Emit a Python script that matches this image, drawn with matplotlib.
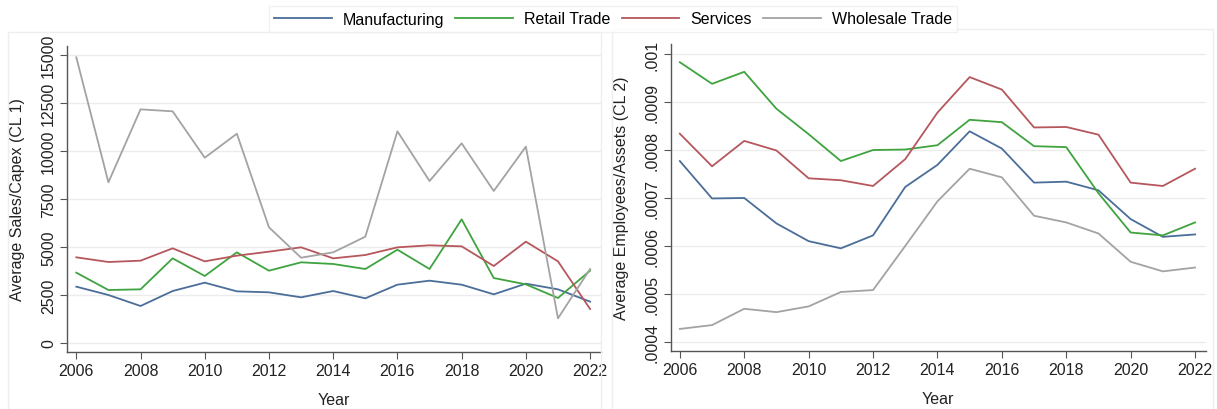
import matplotlib.pyplot as plt
from matplotlib.patches import Rectangle

plt.rcParams["font.family"] = ["Liberation Sans", "DejaVu Sans"]

years = list(range(2006, 2023))

# Average Sales/Capex (CL 1)
sales_manufacturing = [2934, 2500, 1927, 2708, 3142, 2691, 2639, 2379, 2708, 2327,
                       3038, 3246, 3038, 2535, 3090, 2795, 2153]
sales_retail = [3663, 2760, 2795, 4410, 3490, 4722, 3767, 4202, 4115, 3854,
                4861, 3854, 6441, 3385, 3055, 2344, 3767]
sales_services = [4462, 4219, 4288, 4931, 4253, 4549, 4757, 4983, 4410, 4583,
                  4983, 5087, 5035, 4010, 5278, 4253, 1771]
sales_wholesale = [14880, 8370, 12170, 12067, 9651, 10901, 6026, 4443, 4723, 5537,
                   11026, 8437, 10401, 7917, 10226, 1285, 3854]

# Average Employees/Assets (CL 2)
emp_manufacturing = [0.000777, 0.000699, 0.000700, 0.000647, 0.000610, 0.000595,
                     0.000622, 0.000723, 0.000769, 0.000839, 0.000803, 0.000732,
                     0.000734, 0.000716, 0.000656, 0.000619, 0.000624]
emp_retail = [0.000983, 0.000938, 0.000963, 0.000886, 0.000833, 0.000777,
              0.000800, 0.000801, 0.000810, 0.000863, 0.000858, 0.000808,
              0.000806, 0.000710, 0.000628, 0.000622, 0.000649]
emp_services = [0.000834, 0.000766, 0.000819, 0.000799, 0.000741, 0.000737,
                0.000725, 0.000781, 0.000878, 0.000952, 0.000926, 0.000847,
                0.000848, 0.000832, 0.000732, 0.000725, 0.000761]
emp_wholesale = [0.000427, 0.000435, 0.000469, 0.000462, 0.000474, 0.000504,
                 0.000508, 0.000600, 0.000693, 0.000761, 0.000743, 0.000663,
                 0.000649, 0.000626, 0.000567, 0.000547, 0.000555]

SECTORS = ["Manufacturing", "Retail Trade", "Services", "Wholesale Trade"]
COLORS = {
    "Manufacturing": "#4a6e99",
    "Retail Trade": "#3fa33f",
    "Services": "#b5575c",
    "Wholesale Trade": "#a3a3a3",
}

sales = dict(zip(SECTORS, [sales_manufacturing, sales_retail, sales_services, sales_wholesale]))
emps = dict(zip(SECTORS, [emp_manufacturing, emp_retail, emp_services, emp_wholesale]))

sales_ticks = [0, 2500, 5000, 7500, 10000, 12500, 15000]
emp_ticks = [0.0004, 0.0005, 0.0006, 0.0007, 0.0008, 0.0009, 0.001]
emp_tick_labels = [".0004", ".0005", ".0006", ".0007", ".0008", ".0009", ".001"]
year_ticks = list(range(2006, 2023, 2))

FS = 11.5
W, H = 1217, 410

fig = plt.figure(figsize=(W / 100, H / 100), dpi=100)
fig.patch.set_facecolor("white")

# faint panel frames
for x0, x1, top in [(8, 601, 33), (612, 1213, 30)]:
    fig.add_artist(Rectangle((x0 / W, -0.01), (x1 - x0) / W, 1 - top / H + 0.01,
                             transform=fig.transFigure, fill=False,
                             edgecolor="#eeeeee", linewidth=1))

ax1 = fig.add_axes([67 / W, 57 / H, 534 / W, 306 / H])
ax2 = fig.add_axes([670.5 / W, 58 / H, 535.5 / W, 307 / H])


def style_axis(ax):
    for side in ["top", "right"]:
        ax.spines[side].set_visible(False)
    for side in ["left", "bottom"]:
        ax.spines[side].set_color("#555555")
        ax.spines[side].set_linewidth(1.0)
    ax.grid(axis="y", color="#ececec", linewidth=1.0)
    ax.set_axisbelow(True)
    ax.tick_params(axis="both", direction="out", length=5, width=0.8, color="#555555",
                   labelsize=FS, labelcolor="#222222", pad=3)
    ax.set_xticks(year_ticks)
    ax.set_xlabel("Year", fontsize=FS, labelpad=10, color="#222222")


lines = []
for sector in SECTORS:
    (ln,) = ax1.plot(years, sales[sector], color=COLORS[sector], linewidth=1.3, label=sector)
    lines.append(ln)
    ax2.plot(years, emps[sector], color=COLORS[sector], linewidth=1.3)

style_axis(ax1)
ax1.set_xlim(2005.71, 2022.34)
ax1.set_ylim(-469, 15470)
ax1.set_yticks(sales_ticks)
ax1.set_yticklabels([str(t) for t in sales_ticks], rotation=90, va="center")
ax1.set_ylabel("Average Sales/Capex (CL 1)", fontsize=FS, color="#222222")
ax1.yaxis.set_label_coords(-0.079, 0.5)

style_axis(ax2)
ax2.set_xlim(2005.71, 2022.34)
ax2.set_ylim(0.000381, 0.001021)
ax2.set_yticks(emp_ticks)
ax2.set_yticklabels(emp_tick_labels, rotation=90, va="center")
ax2.set_ylabel("Average Employees/Assets (CL 2)", fontsize=FS, color="#222222")
ax2.yaxis.set_label_coords(-0.078, 0.5)

leg = fig.legend(lines, SECTORS, loc="center", bbox_to_anchor=(613 / W, 1 - 20 / H),
                 ncol=4, frameon=True, fancybox=False, fontsize=FS, handlelength=3.6,
                 columnspacing=0.7, handletextpad=0.7, borderpad=0.35)
leg.get_frame().set_edgecolor("#eeeeee")
leg.get_frame().set_linewidth(1)

plt.savefig("out.png", dpi=100)
